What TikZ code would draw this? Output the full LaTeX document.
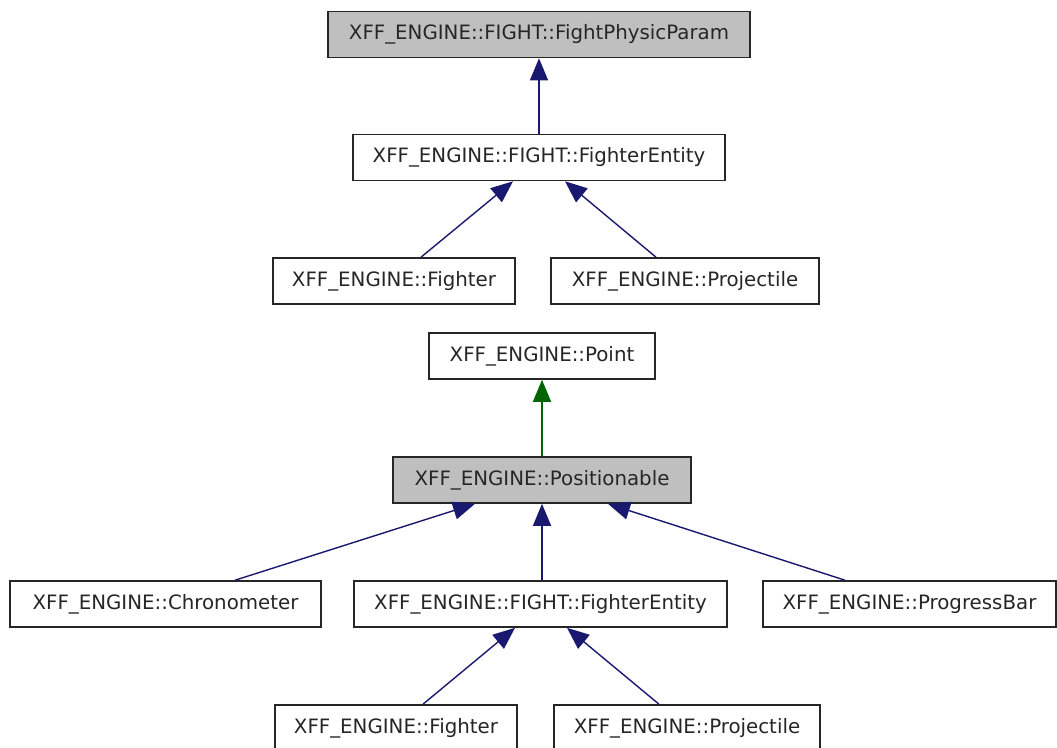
\documentclass[tikz,border=0pt]{standalone}
\usepackage{fontspec}
\setmainfont{DejaVu Sans}
\usetikzlibrary{arrows.meta}
\definecolor{edgeblue}{HTML}{191970}
\definecolor{edgegreen}{HTML}{006400}
\definecolor{basefill}{HTML}{BFBFBF}
\begin{document}
\begin{tikzpicture}[x=1pt,y=-1pt,
  cls/.style={draw=black!85, line width=1.6pt, fill=white, rectangle,
    inner sep=0pt, minimum height=46pt, text=black!85,
    font=\fontsize{19.8}{22}\selectfont},
  focus/.style={cls, fill=basefill},
  inherit/.style={draw=edgeblue, line width=1.4pt,
    -{Triangle[length=22pt,width=18pt]}},
  uses/.style={draw=edgegreen, line width=1.4pt,
    -{Triangle[length=22pt,width=18pt]}}]
\useasboundingbox (0,0) rectangle (1057,747);

% --- FightPhysicParam hierarchy ---
\node[focus, minimum width=422pt] (fpp) at (539,34.5) {XFF\_ENGINE::FIGHT::FightPhysicParam};
\node[cls, minimum width=372pt] (fe1) at (539,157.5) {XFF\_ENGINE::FIGHT::FighterEntity};
\node[cls, minimum width=242pt] (f1) at (394,281) {XFF\_ENGINE::Fighter};
\node[cls, minimum width=268pt] (p1) at (685,281) {XFF\_ENGINE::Projectile};

\draw[inherit] (fe1.north) -- (fpp.south);
\draw[inherit] ([xshift=27pt]f1.north) -- ([xshift=-26pt]fe1.south);
\draw[inherit] ([xshift=-29pt]p1.north) -- ([xshift=26pt]fe1.south);

% --- Positionable hierarchy ---
\node[cls, minimum width=226pt] (pt) at (542,356) {XFF\_ENGINE::Point};
\node[focus, minimum width=298pt] (pos) at (542,480) {XFF\_ENGINE::Positionable};
\node[cls, minimum width=311pt] (chr) at (165.5,604) {XFF\_ENGINE::Chronometer};
\node[cls, minimum width=373pt] (fe2) at (540.5,604) {XFF\_ENGINE::FIGHT::FighterEntity};
\node[cls, minimum width=293pt] (pb) at (909.5,604) {XFF\_ENGINE::ProgressBar};
\node[cls, minimum width=242pt] (f2) at (396,728) {XFF\_ENGINE::Fighter};
\node[cls, minimum width=266pt] (p2) at (687,728) {XFF\_ENGINE::Projectile};

\draw[uses] (pos.north) -- (pt.south);
\draw[inherit] ([xshift=69.5pt]chr.north) -- ([xshift=-67pt]pos.south);
\draw[inherit] (fe2.north -| pos.south) -- (pos.south);
\draw[inherit] ([xshift=-64.5pt]pb.north) -- ([xshift=66pt]pos.south);
\draw[inherit] ([xshift=27pt]f2.north) -- ([xshift=-25.5pt]fe2.south);
\draw[inherit] ([xshift=-28pt]p2.north) -- ([xshift=26.5pt]fe2.south);
\end{tikzpicture}
\end{document}
